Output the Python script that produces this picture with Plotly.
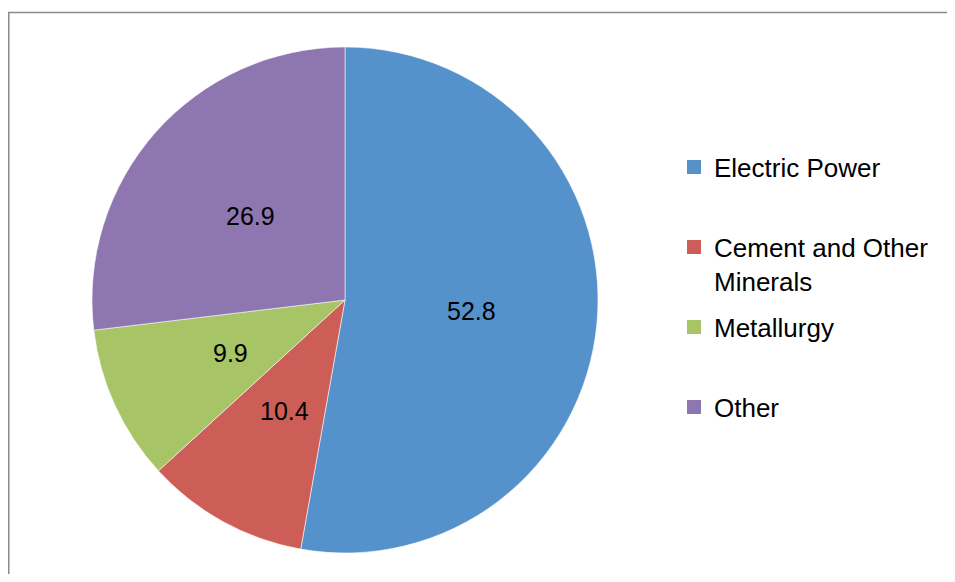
import math
import plotly.graph_objects as go

categories = ["Electric Power", "Cement and Other Minerals", "Metallurgy", "Other"]
legend_labels = ["Electric Power", "Cement and Other<br>Minerals", "Metallurgy", "Other"]
values = [52.8, 10.4, 9.9, 26.9]
colors = ["#5592CB", "#CD5E57", "#A7C466", "#8E76B0"]

OFF = 8  # page offset of the plot div (default body margin)
W, H = 955 - OFF, 582 - 2 * OFF
FONT = "Liberation Sans, Arial, sans-serif"

# pie geometry in figure pixels
CX, CY, R = 345 - OFF, 300 - OFF, 253
LABEL_FRAC = 0.5

fig = go.Figure()

fig.add_trace(go.Pie(
    labels=categories,
    values=values,
    sort=False,
    direction="clockwise",
    rotation=0,
    marker=dict(colors=colors, line=dict(color="rgba(255,255,255,0.7)", width=0.8)),
    textinfo="none",
    showlegend=False,
    domain=dict(x=[(CX - R) / W, (CX + R) / W], y=[1 - (CY + R) / H, 1 - (CY - R) / H]),
    hovertemplate="%{label}: %{value}<extra></extra>",
))

# data labels at the middle angle of each slice, half way out
annotations = []
total = sum(values)
cum = 0.0
for v in values:
    mid = (cum + v / 2) / total * 2 * math.pi
    cum += v
    px = CX + LABEL_FRAC * R * math.sin(mid)
    py = CY - LABEL_FRAC * R * math.cos(mid)
    annotations.append(dict(
        x=px / W, y=1 - py / H, xref="paper", yref="paper",
        text=f"{v}", showarrow=False, xanchor="center", yanchor="middle",
        font=dict(family=FONT, size=25, color="black"),
    ))

# legend entries (one legend per category so the spacing matches the original)
legend_tops = [143.6 - OFF, 223.6 - OFF, 303.6 - OFF, 383.6 - OFF]
legend_names = ["legend", "legend2", "legend3", "legend4"]
layout_legends = {}
for lab, col, top, lg in zip(legend_labels, colors, legend_tops, legend_names):
    fig.add_trace(go.Scatter(
        x=[None], y=[None], mode="markers", name=lab,
        marker=dict(symbol="square", size=14, color=col),
        legend=lg, showlegend=True, hoverinfo="skip",
    ))
    layout_legends[lg] = dict(
        x=(674 - OFF) / W, xanchor="left", y=1 - top / H, yanchor="top",
        font=dict(family=FONT, size=26, color="black"),
        bgcolor="rgba(0,0,0,0)", borderwidth=0, valign="top",
    )

fig.update_layout(
    width=W, height=H,
    margin=dict(l=0, r=0, t=0, b=0),
    paper_bgcolor="white", plot_bgcolor="white",
    font=dict(family=FONT, color="black"),
    xaxis=dict(visible=False), yaxis=dict(visible=False),
    annotations=annotations,
    shapes=[dict(type="rect", xref="paper", yref="paper",
                 x0=0.75 / W, x1=1.05, y0=-0.05, y1=1 - 4.5 / H,
                 line=dict(color="#8a8a8a", width=1.5), fillcolor="rgba(0,0,0,0)",
                 layer="below")],
    **layout_legends,
)

fig.write_html("out.html")
